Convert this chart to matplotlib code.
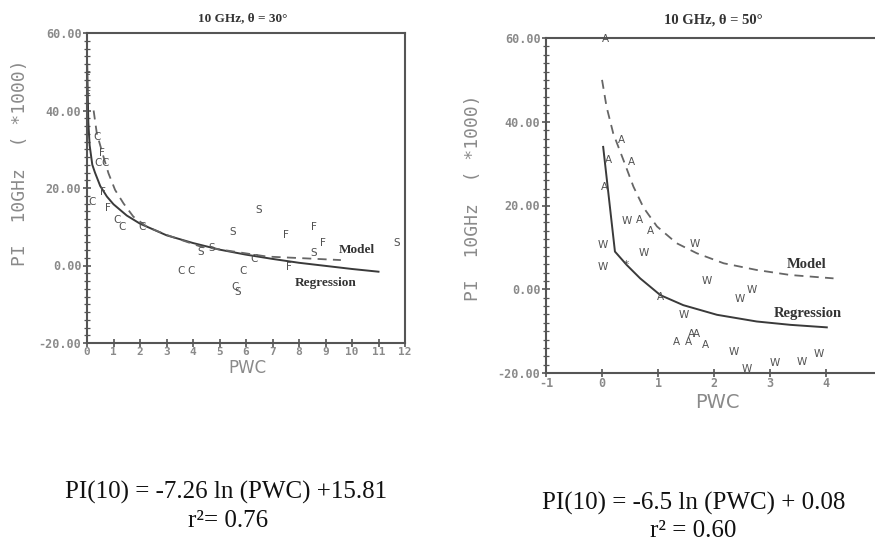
import matplotlib
matplotlib.use("Agg")
import matplotlib.pyplot as plt
from matplotlib.ticker import MultipleLocator

# ---------------- data: left panel (theta = 30 deg) ----------------
left_pts_x = [0.05, 0.05, 0.38, 0.56, 0.42, 0.68, 0.18, 0.61, 0.80, 1.12, 1.31, 2.07,
              4.28, 4.72, 3.56, 3.93, 5.51, 6.46, 5.90, 5.60, 5.67, 6.30, 7.50, 8.57,
              8.89, 8.57, 7.63, 11.67]
left_pts_y = [49.0, 44.0, 33.2, 29.0, 26.4, 26.4, 16.5, 19.0, 14.8, 11.7, 10.0, 10.0,
              3.6, 4.4, -1.3, -1.3, 8.7, 14.3, -1.3, -5.5, -6.8, 1.8, 7.9, 10.0,
              5.7, 3.1, -0.3, 5.7]
left_pts_lab = ['F', 'F', 'C', 'F', 'C', 'C', 'C', 'F', 'F', 'C', 'C', 'C',
                'S', 'S', 'C', 'C', 'S', 'S', 'C', 'C', 'S', 'C', 'F', 'F',
                'F', 'S', 'F', 'S']

left_reg_x = [0.005, 0.05, 0.1, 0.2, 0.3, 0.5, 0.75, 1.0, 1.5, 2.0, 3.0, 4.0, 5.0,
              6.0, 7.0, 8.0, 9.0, 10.0, 11.0]
left_reg_y = [52.0, 37.0, 31.0, 26.0, 24.0, 20.5, 17.8, 15.8, 12.9, 10.8, 7.8, 5.8, 4.1,
              2.8, 1.7, 0.7, -0.1, -0.9, -1.6]

left_mod_x = [0.25, 0.37, 0.62, 0.81, 1.06, 1.38, 1.75, 2.26, 3.0, 4.28, 5.54, 6.8, 8.07, 9.58]
left_mod_y = [40.0, 34.1, 28.1, 23.8, 19.5, 16.0, 12.6, 10.0, 7.9, 4.9, 3.6, 2.3, 1.9, 1.4]

# ---------------- data: right panel (theta = 50 deg) ----------------
right_pts_x = [0.07, 0.35, 0.53, 0.11, 0.04, 0.44, 0.66, 0.86, 0.02, 0.74, 1.66, 0.02,
               0.44, 1.87, 2.46, 2.67, 1.04, 1.45, 1.33, 1.54, 1.60, 1.68, 1.85, 2.35,
               2.58, 3.09, 3.57, 3.87]
right_pts_y = [59.7, 35.6, 30.3, 30.9, 24.5, 16.4, 16.5, 14.0, 10.6, 8.7, 10.7, 5.4,
               5.8, 2.0, -2.3, -0.2, -1.8, -6.1, -12.5, -12.5, -10.8, -10.8, -13.3, -15.1,
               -19.1, -17.7, -17.3, -15.5]
right_pts_lab = ['A', 'A', 'A', 'A', 'A', 'W', 'A', 'A', 'W', 'W', 'W', 'W',
                 '*', 'W', 'W', 'W', 'A', 'W', 'A', 'A', 'A', 'A', 'A', 'W',
                 'W', 'W', 'W', 'W']

right_reg_x = [0.02, 0.23, 0.44, 0.68, 1.04, 1.45, 2.05, 2.76, 3.36, 4.01]
right_reg_y = [34.0, 9.0, 5.8, 2.6, -1.4, -3.8, -6.1, -7.7, -8.5, -9.1]

right_mod_x = [0.0, 0.08, 0.2, 0.38, 0.56, 0.74, 0.98, 1.33, 1.69, 2.17, 2.76, 3.36, 4.13]
right_mod_y = [50.0, 43.6, 37.2, 30.9, 24.5, 19.5, 15.0, 11.0, 8.6, 6.2, 4.6, 3.4, 2.6]

y_ticks = [-20, 0, 20, 40, 60]
y_ticklabels = ['-20.00', '0.00', '20.00', '40.00', '60.00']
left_xticks = list(range(0, 13))
right_xticks = list(range(-1, 5))

titles = ['10 GHz, θ = 30°', '10 GHz, θ = 50°']
equations = ['PI(10) = -7.26 ln (PWC) +15.81', 'PI(10) = -6.5 ln (PWC) + 0.08']
r2_texts = ['r²= 0.76', 'r² = 0.60']
ylabel_text = 'PI  10GHz  ( *1000)'
xlabel_text = 'PWC'

LINE = '#3a3a3a'
AXC = '#555555'
TXT = '#8a8a8a'
LET = '#505050'

W, H = 875, 543
fig = plt.figure(figsize=(W / 100, H / 100), dpi=100)
fig.patch.set_facecolor('white')


def fr(x0, y0, x1, y1):
    return [x0 / W, 1 - y1 / H, (x1 - x0) / W, (y1 - y0) / H]


axL = fig.add_axes(fr(87, 33, 405, 343))
axR = fig.add_axes(fr(546, 38, 875, 373))


def style(ax, xticks, xlim, xsize):
    ax.set_xlim(*xlim)
    ax.set_ylim(-20, 60)
    ax.set_xticks(xticks)
    ax.set_xticklabels([str(t) for t in xticks])
    ax.set_yticks(y_ticks)
    ax.set_yticklabels(y_ticklabels)
    ax.yaxis.set_minor_locator(MultipleLocator(2))
    for s in ax.spines.values():
        s.set_color(AXC)
        s.set_linewidth(1.5)
    ax.tick_params(axis='both', which='major', direction='inout', length=6, width=1.2,
                   color=AXC, labelcolor=TXT, labelsize=8.5, pad=1)
    ax.tick_params(axis='x', which='major', labelsize=xsize, pad=0)
    ax.tick_params(axis='y', which='minor', direction='inout', length=5, width=0.9, color=AXC)
    for lab in ax.get_xticklabels() + ax.get_yticklabels():
        lab.set_family('DejaVu Sans Mono')
        lab.set_fontweight('bold')


style(axL, left_xticks, (0, 12), 8)
style(axR, right_xticks, (-1, 4.87), 8.5)
axR.spines['right'].set_visible(False)

# left panel curves and letters
axL.plot(left_reg_x, left_reg_y, color=LINE, lw=1.4)
axL.plot(left_mod_x, left_mod_y, color='#666666', lw=1.3, linestyle=(0, (5, 3.5)))
for x, y, s in zip(left_pts_x, left_pts_y, left_pts_lab):
    axL.text(x, y, s, ha='center', va='center', fontsize=7.5, color=LET,
             family='DejaVu Sans')
axL.text(9.5, 4.0, 'Model', fontsize=9.5, fontweight='bold', family='Liberation Serif',
         color='#333333', ha='left', va='center')
axL.text(7.85, -4.5, 'Regression', fontsize=9.5, fontweight='bold', family='Liberation Serif',
         color='#333333', ha='left', va='center')

# right panel curves and letters
axR.plot(right_reg_x, right_reg_y, color=LINE, lw=1.4)
axR.plot(right_mod_x, right_mod_y, color='#666666', lw=1.3, linestyle=(0, (5, 3.5)))
for x, y, s in zip(right_pts_x, right_pts_y, right_pts_lab):
    axR.text(x, y, s, ha='center', va='center', fontsize=7.5, color=LET,
             family='DejaVu Sans')
axR.text(3.3, 6.0, 'Model', fontsize=10.5, fontweight='bold', family='Liberation Serif',
         color='#333333', ha='left', va='center')
axR.text(3.07, -5.7, 'Regression', fontsize=10.5, fontweight='bold', family='Liberation Serif',
         color='#333333', ha='left', va='center')

# titles
fig.text(243 / W, 1 - 18 / H, titles[0], ha='center', va='center', fontsize=9.5,
         fontweight='bold', family='Liberation Serif', color='#333333')
fig.text(713 / W, 1 - 20 / H, titles[1], ha='center', va='center', fontsize=10.5,
         fontweight='bold', family='Liberation Serif', color='#333333')

# axis labels
for ax, (lx, ly), (xx, xy), fs in [(axL, (20, 163), (247, 368), 12),
                                   (axR, (473, 198), (717, 403), 14)]:
    fig.text(lx / W, 1 - ly / H, ylabel_text, rotation=90, ha='center', va='center',
             fontsize=13, color=TXT, family='DejaVu Sans Mono')
    fig.text(xx / W, 1 - xy / H, xlabel_text, ha='center', va='center',
             fontsize=fs, color=TXT, family='DejaVu Sans')

# equations
fig.text(226 / W, 1 - 492 / H, equations[0], ha='center', va='center', fontsize=18,
         family='Liberation Serif', color='#111111')
fig.text(228 / W, 1 - 521 / H, r2_texts[0], ha='center', va='center', fontsize=18,
         family='Liberation Serif', color='#111111')
fig.text(694 / W, 1 - 503 / H, equations[1], ha='center', va='center', fontsize=18,
         family='Liberation Serif', color='#111111')
fig.text(693 / W, 1 - 531 / H, r2_texts[1], ha='center', va='center', fontsize=18,
         family='Liberation Serif', color='#111111')

fig.savefig('out.png', dpi=100, facecolor='white')
